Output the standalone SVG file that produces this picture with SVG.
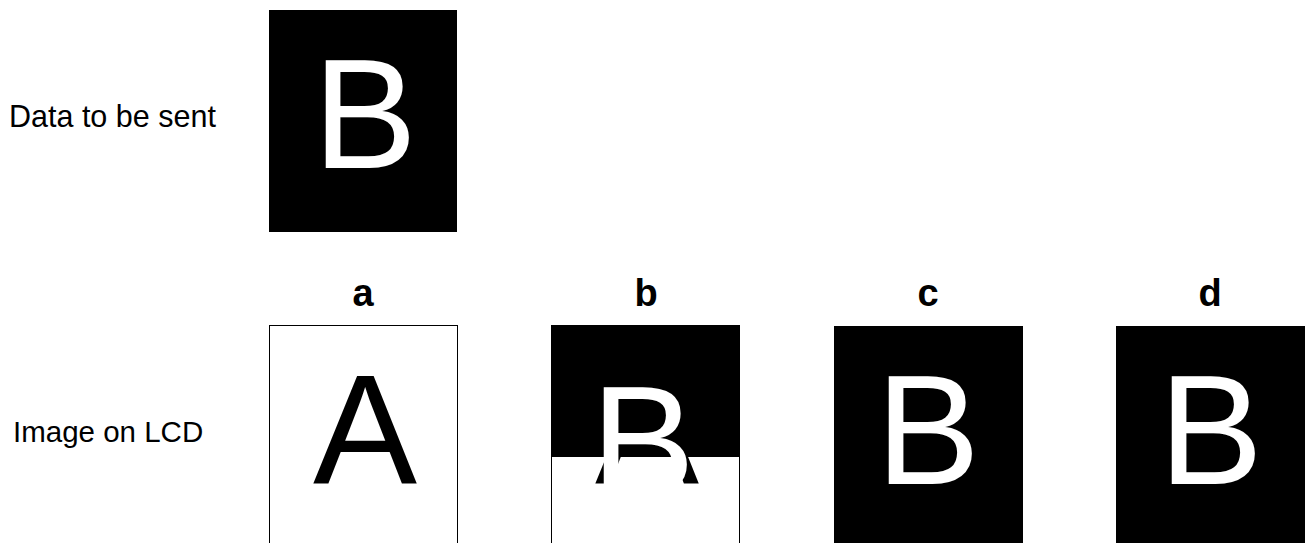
<svg xmlns="http://www.w3.org/2000/svg" width="1310" height="543" viewBox="0 0 1310 543">
  <style>
    .lbl { font-family: "Liberation Sans", Arial, sans-serif; font-size: 30.5px; fill: #000; }
    .tag { font-family: "Liberation Sans", Arial, sans-serif; font-size: 38px; font-weight: bold; fill: #000; text-anchor: middle; }
    .big { font-family: "Liberation Sans", Arial, sans-serif; font-size: 156px; text-anchor: middle; }
    .white { fill: #fff; }
    .black { fill: #000; }
    .frame { fill: #fff; stroke: #000; stroke-width: 1; }
  </style>
  <rect width="1310" height="543" fill="#fff"/>

  <g id="label-data">
    <text class="lbl" x="9" y="127">Data to be sent</text>
  </g>
  <g id="label-image">
    <text class="lbl" x="13" y="442" style="font-size:29.5px">Image on LCD</text>
  </g>

  <g id="data-box">
    <rect x="269" y="10" width="188" height="222" fill="#000"/>
    <text class="big white" x="365" y="168">B</text>
  </g>

  <g id="panel-a">
    <text class="tag" x="363" y="306">a</text>
    <rect class="frame" x="269.5" y="325.5" width="188" height="230"/>
    <text class="big black" x="365" y="483">A</text>
  </g>

  <g id="panel-b">
    <text class="tag" x="646" y="306">b</text>
    <rect class="frame" x="551.5" y="325.5" width="188" height="230"/>
    <rect x="551" y="325" width="189" height="132" fill="#000"/>
    <text class="big black" x="647" y="483">A</text>
    <text class="big white" x="643" y="495">B</text>
  </g>

  <g id="panel-c">
    <text class="tag" x="928" y="306">c</text>
    <rect x="834" y="326" width="189" height="230" fill="#000"/>
    <text class="big white" x="928" y="484">B</text>
  </g>

  <g id="panel-d">
    <text class="tag" x="1210" y="306">d</text>
    <rect x="1116" y="326" width="189" height="230" fill="#000"/>
    <text class="big white" x="1211" y="484">B</text>
  </g>

  <g id="connectors"/>
</svg>
